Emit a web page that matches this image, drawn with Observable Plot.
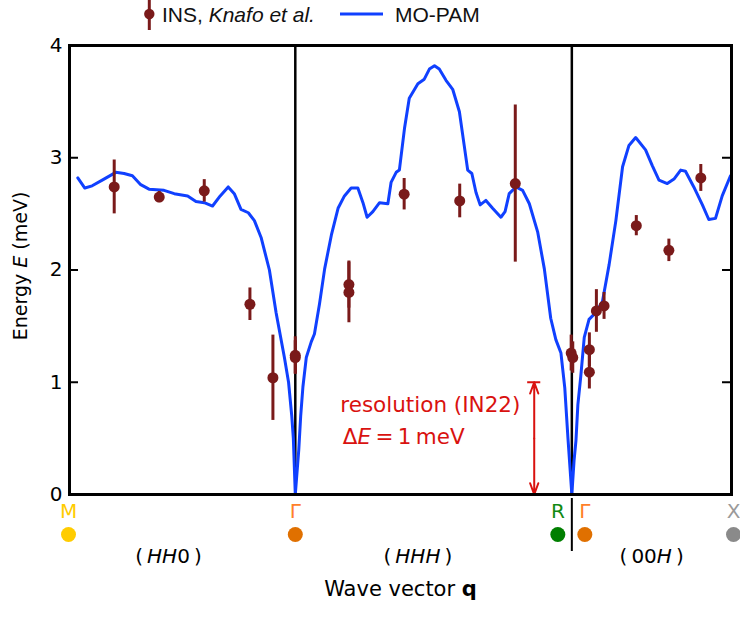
<!DOCTYPE html>
<html>
<head>
<meta charset="utf-8">
<script src="https://cdn.jsdelivr.net/npm/d3@7"></script>
<script src="https://cdn.jsdelivr.net/npm/@observablehq/plot@0.6"></script>
<style>
  html, body { margin: 0; padding: 0; background: #fff; }
  #wrap { width: 740px; height: 617px; position: relative; overflow: hidden; }
  #legend { position: relative; width: 740px; height: 30px; font-family: "Liberation Sans", Arial, sans-serif; font-size: 21px; color: #111; }
  #legend .item { position: absolute; top: 0; height: 30px; line-height: 30px; white-space: nowrap; }
  #chart svg { display: block; }
</style>
</head>
<body>
<div id="wrap">
  <div id="legend"></div>
  <div id="chart"></div>
</div>
<script>
// ---------- data ----------
// path coordinate q (units of 2π/a) along M–Γ–R|Γ–X
const pointNames = ["M", "Γ", "R", "Γ", "X"];
const pointQ = [0, 0.7071, 1.5731, 1.5731, 2.0731];
const pointTextColor = ["#ffcc00", "#ff7f2a", "#128a12", "#ff7f2a", "#9a9a9a"];
const pointDotColor = ["#ffcc00", "#e07000", "#007f00", "#e07000", "#8a8a8a"];
const pointShift = [-1, 0, -14, 13, 2];

const segmentNames = ["(HH0)", "(HHH)", "(00H)"];
const segmentQ = [0.310, 1.091, 1.823];
const boundaryQ = [0.7071, 1.5731];

const yTicks = [0, 1, 2, 3, 4];

// MO-PAM model dispersion
const modelQ = [0.026,0.048,0.071,0.108,0.145,0.171,0.197,0.223,0.249,0.296,
  0.328,0.370,0.396,0.422,0.448,0.472,0.497,0.516,0.537,0.560,
  0.579,0.600,0.626,0.647,0.673,0.686,0.696,0.701,0.7071,
  0.718,0.724,0.731,0.7415,0.757,0.767,0.783,0.799,0.820,0.841,
  0.861,0.882,0.903,0.919,0.932,0.950,0.971,0.997,1.007,1.023,
  1.033,1.049,1.064,1.091,1.111,1.127,1.143,1.158,1.179,1.200,
  1.221,1.236,1.247,1.260,1.273,1.286,1.304,1.325,1.351,1.364,
  1.377,1.398,1.419,1.440,1.466,1.487,1.507,1.523,1.539,1.551,
  1.561,1.5731,
  1.580,1.586,1.592,1.601,1.612,1.627,1.648,1.669,1.690,1.711,
  1.732,1.752,1.773,1.804,1.825,1.846,1.872,1.893,1.914,1.929,
  1.955,1.982,2.002,2.023,2.044,2.070];
const modelE = [2.82,2.73,2.75,2.81,2.87,2.86,2.84,2.76,2.72,2.71,
  2.68,2.66,2.61,2.60,2.57,2.66,2.74,2.68,2.54,2.51,
  2.44,2.29,2.00,1.62,1.22,1.00,0.70,0.50,0,
  0.40,0.70,0.96,1.22,1.36,1.43,1.70,2.01,2.31,2.55,
  2.66,2.73,2.73,2.60,2.47,2.52,2.60,2.59,2.78,2.87,
  2.89,3.26,3.53,3.66,3.70,3.79,3.82,3.79,3.69,3.61,
  3.41,3.11,2.89,2.86,2.69,2.58,2.62,2.55,2.47,2.52,
  2.68,2.74,2.71,2.59,2.34,2.01,1.57,1.38,1.26,0.95,
  0.50,0,
  0.30,0.48,0.80,1.05,1.40,1.56,1.62,1.72,2.05,2.44,
  2.92,3.11,3.18,3.07,2.93,2.80,2.77,2.81,2.89,2.88,
  2.74,2.58,2.45,2.46,2.66,2.84];

// INS data, Knafo et al.
const insQ = [0.140,0.281,0.422,0.565,0.637,0.707,0.707,0.875,0.875,1.048,1.222,1.396,1.571,1.576,1.628,1.628,1.650,1.674,1.775,1.877,1.977];
const insE = [2.74,2.65,2.705,1.695,1.04,1.24,1.22,1.87,1.80,2.675,2.615,2.77,1.26,1.22,1.29,1.09,1.635,1.68,2.395,2.175,2.82];
const insErr = [0.24,0.05,0.10,0.145,0.38,0.165,0.15,0.21,0.27,0.14,0.15,0.70,0.16,0.14,0.15,0.15,0.19,0.12,0.09,0.10,0.12];

// resolution annotation
const resolutionQ = 1.4553;
const resolutionE = [0, 1];
const resolutionLabels = ["resolution (IN22)", "ΔE = 1 meV"];
const resolutionLabelQ = [0.848, 0.856];
const resolutionLabelE = [0.793, 0.508];

// ---------- styling ----------
const BLUE = "#1040ff", MAROON = "#7a1a1a", RED = "#d9120f";
const FONT = "DejaVu Sans";

const model = modelQ.map((q, i) => ({q, e: modelE[i]}));
const ins = insQ.map((q, i) => ({q, e: insE[i], err: insErr[i]}));
const pointRows = pointNames.map((name, i) => ({name, q: pointQ[i]}));
const segRows = segmentNames.map((name, i) => ({name, q: segmentQ[i]}));
const resLabelRows = resolutionLabels.map((t, i) => ({t, q: resolutionLabelQ[i], e: resolutionLabelE[i]}));
const arrowRows = [
  {q: resolutionQ, from: (resolutionE[0] + resolutionE[1]) / 2, to: resolutionE[1]},
  {q: resolutionQ, from: (resolutionE[0] + resolutionE[1]) / 2, to: resolutionE[0]}
];

// ---------- legend ----------
const legend = document.getElementById("legend");
legend.innerHTML = `
  <svg class="item" style="left:140px" width="20" height="30"><line x1="9.3" x2="9.3" y1="0" y2="30" stroke="${MAROON}" stroke-width="3"/><circle cx="9.3" cy="14" r="5.2" fill="${MAROON}"/></svg>
  <span class="item" style="left:162px">INS, <i>Knafo et al.</i></span>
  <svg class="item" style="left:340px" width="44" height="30"><line x1="0" x2="43" y1="14" y2="14" stroke="${BLUE}" stroke-width="3.2"/></svg>
  <span class="item" style="left:395px">MO-PAM</span>`;

// ---------- chart ----------
const W = 740, H = 587, mL = 69, mR = 9, mT = 15, mB = 123;
const plotW = W - mL - mR;
const below = {frameAnchor: "bottom", lineAnchor: "middle", textAnchor: "middle"};

const chart = Plot.plot({
  width: W, height: H,
  marginTop: mT, marginBottom: mB, marginLeft: mL, marginRight: mR,
  x: {domain: [pointQ[0], pointQ[4]], axis: null},
  y: {domain: [yTicks[0], yTicks[yTicks.length - 1]], axis: null},
  style: {fontFamily: FONT, fontSize: "20px", color: "black", background: "white"},
  marks: [
    Plot.ruleX(boundaryQ, {stroke: "black", strokeWidth: 2.5}),
    Plot.ruleX([boundaryQ[1]], {stroke: "black", strokeWidth: 2, insetTop: 453, insetBottom: -57}),
    Plot.tickY(yTicks.slice(1, -1), {stroke: "black", strokeWidth: 2, insetRight: plotW - 9}),
    Plot.tickY(yTicks.slice(1, -1), {stroke: "black", strokeWidth: 2, insetLeft: plotW - 9}),
    Plot.axisY(yTicks, {tickSize: 0, tickPadding: 7, fontSize: 20, label: null, fill: "black", tickFormat: d3.format("d")}),
    Plot.line(model, {x: "q", y: "e", stroke: BLUE, strokeWidth: 3, strokeLinejoin: "round"}),
    Plot.ruleX(ins, {x: "q", y1: d => d.e - d.err, y2: d => d.e + d.err, stroke: MAROON, strokeWidth: 3}),
    Plot.dot(ins, {x: "q", y: "e", r: 5.5, fill: MAROON}),
    // resolution arrow
    Plot.arrow(arrowRows, {x1: "q", x2: "q", y1: "from", y2: "to", stroke: RED, strokeWidth: 2, headLength: 9, headAngle: 40}),
    Plot.ruleY(resolutionE, {x1: () => resolutionQ - 0.0205, x2: () => resolutionQ + 0.0205, stroke: RED, strokeWidth: 2}),
    Plot.text(resLabelRows, {x: "q", y: "e", text: "t", textAnchor: "start", lineAnchor: "middle", fill: RED, fontSize: 21.5}),
    // high-symmetry point labels and dots below the frame
    ...pointRows.map((r, i) => Plot.text([r], {x: "q", text: "name", ...below, dy: 17, dx: pointShift[i], fill: pointTextColor[i], fontSize: 20})),
    ...pointRows.map((r, i) => Plot.dot([r], {x: "q", frameAnchor: "bottom", dy: 40, dx: pointShift[i], r: 7.5, fill: pointDotColor[i]})),
    Plot.text(segRows, {x: "q", text: "name", ...below, dy: 62, fill: "black", fontSize: 20}),
    Plot.text(["Wave vector q"], {...below, dy: 95, fill: "black", fontSize: 21}),
    Plot.text(["Energy E (meV)"], {frameAnchor: "left", textAnchor: "middle", lineAnchor: "middle", dx: -49, dy: -4, rotate: -90, fill: "black", fontSize: 19}),
    Plot.frame({stroke: "black", strokeWidth: 3})
  ]
});

// rich text (italic / bold parts)
const IT = s => `<tspan font-style="italic">${s}</tspan>`;
const rich = {
  "(HH0)": `(\u2009${IT("HH")}0\u2009)`,
  "(HHH)": `(\u2009${IT("HHH")}\u2009)`,
  "(00H)": `(\u200900${IT("H")}\u2009)`,
  "Energy E (meV)": `Energy ${IT("E")} (meV)`,
  "Wave vector q": `Wave vector <tspan font-weight="bold">q</tspan>`,
  "ΔE = 1 meV": `Δ${IT("E")}\u2009=\u20091\u2009meV`
};
d3.select(chart).selectAll("text").each(function () {
  const t = this.textContent;
  if (rich[t]) this.innerHTML = rich[t];
});

document.getElementById("chart").appendChild(chart);
</script>
</body>
</html>
